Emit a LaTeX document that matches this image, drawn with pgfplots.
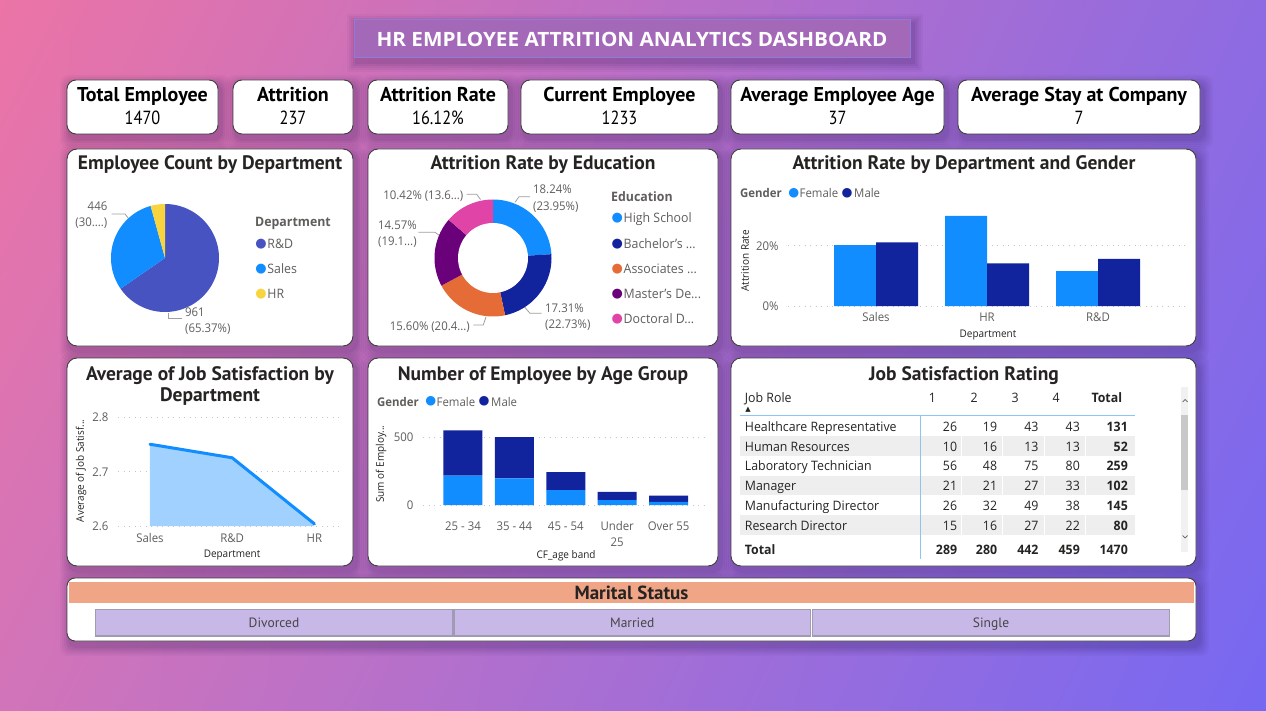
\documentclass[border=0pt]{standalone}
\usepackage{pgfplots}
\pgfplotsset{compat=1.18}
\usetikzlibrary{shadings}
\usepackage{fontspec}
\setmainfont{Open Sans}[FakeStretch=0.95]
\newfontfamily\din{PT Sans}
\newfontfamily\dinc{PT Sans}[FakeStretch=0.86]
\newfontfamily\banner{Open Sans}[FakeStretch=1.05]
\newfontfamily\sym{DejaVu Sans}

\definecolor{bgTL}{HTML}{EC74A6}
\definecolor{bgTR}{HTML}{8E6BE2}
\definecolor{bgBL}{HTML}{D274B9}
\definecolor{bgBR}{HTML}{7668F2}
\definecolor{shadowc}{HTML}{2E1A55}
\definecolor{cardline}{HTML}{404040}
\definecolor{titlebox}{HTML}{A468B8}
\definecolor{titleline}{HTML}{8F7BD8}
\definecolor{pbiBlue}{HTML}{118DFF}
\definecolor{pbiNavy}{HTML}{12239E}
\definecolor{pbiOrange}{HTML}{E66C37}
\definecolor{pbiPurple}{HTML}{6B007B}
\definecolor{pbiPink}{HTML}{E044A7}
\definecolor{rdBlue}{HTML}{4653C1}
\definecolor{hrYellow}{HTML}{F8D43E}
\definecolor{txt}{HTML}{252423}
\definecolor{gtxt}{HTML}{605E5C}
\definecolor{leader}{HTML}{A19F9D}
\definecolor{gridc}{HTML}{C8C6C4}
\definecolor{areaFill}{HTML}{A0D1FF}
\definecolor{rowShade}{HTML}{EEEEEE}
\definecolor{tblBlue}{HTML}{8CC4F8}
\definecolor{scrollTrack}{HTML}{F1F1F1}
\definecolor{scrollThumb}{HTML}{C8C8C8}
\definecolor{maritalHead}{HTML}{F0A686}
\definecolor{slicerFill}{HTML}{C8B8E8}
\definecolor{slicerLine}{HTML}{A09BB0}

\newcommand\fs[1]{\fontsize{#1}{#1}\selectfont}

% white card with a soft drop shadow: [corner radius]{x1}{y1}{x2}{y2}
\newcommand\card[5][10]{%
  \foreach \s/\o in {10/0.04,8/0.05,6/0.06,4/0.07,2/0.08}{%
    \fill[shadowc, opacity=\o, rounded corners=#1pt]
      ({#2+3-\s},{#3+5-\s}) rectangle ({#4+3+\s},{#5+5+\s});}%
  \filldraw[fill=white, draw=cardline, line width=0.9pt, rounded corners=#1pt]
    (#2,#3) rectangle (#4,#5);}

% legend entry: colour, x of dot, y centre, label
\newcommand\legitem[4]{%
  \node[font=\sym\fs{13}, text=#1] at (#2,#3) {●};
  \node[anchor=base west, font=\fs{13}] at ({#2+6.2},{#3+4.7}) {#4};}

% shared look of the chart axes
\pgfplotsset{
  pbi/.style={
    scale only axis, clip=false,
    axis line style={draw=none},
    major tick length=0pt,
    ymajorgrids,
    major grid style={draw=gridc, line width=1pt, dash pattern=on 1pt off 4.5pt},
    tick label style={font=\fontsize{12}{16}\selectfont, text=gtxt},
    yticklabel style={xshift=-6pt},
    label style={font=\fs{10.5}, text=txt},
  }
}

% slice values
\pgfmathsetmacro\pieTot{961+446+63}
\pgfmathsetmacro\aRD{90-360*(961/\pieTot)}
\pgfmathsetmacro\aSA{\aRD-360*(446/\pieTot)}
\pgfmathsetmacro\dTot{18.24+17.31+15.60+14.57+10.42}
\pgfmathsetmacro\dA{90-360*(18.24/\dTot)}
\pgfmathsetmacro\dB{\dA-360*(17.31/\dTot)}
\pgfmathsetmacro\dC{\dB-360*(15.60/\dTot)}
\pgfmathsetmacro\dD{\dC-360*(14.57/\dTot)}

\begin{document}
\begin{tikzpicture}
\begin{scope}[x=1pt,y=-1pt]
\useasboundingbox (0,0) rectangle (1266,711);
\shade[upper left=bgTL, upper right=bgTR, lower left=bgBL, lower right=bgBR] (0,0) rectangle (1266,711);

% ---------- banner ----------
\foreach \s/\o in {10/0.04,8/0.05,6/0.06,4/0.07,2/0.08}{%
  \fill[shadowc, opacity=\o] ({354+3-\s},{19+5-\s}) rectangle ({910+3+\s},{57+5+\s});}
\filldraw[fill=titlebox, draw=titleline, line width=0.8pt] (354,19) rectangle (910,57);
\node[anchor=base, inner sep=0, text=white, font=\banner\bfseries\fs{19.7}] at (632,46.3)
  {HR EMPLOYEE ATTRITION ANALYTICS DASHBOARD};

% ---------- KPI cards ----------
\foreach \xa/\xb/\lab/\val in {67/218/Total Employee/1470, 233/353/Attrition/237,
    368/508/Attrition Rate/16.12\%, 521/718/Current Employee/1233,
    731/944/Average Employee Age/37, 958/1200/Average Stay at Company/7}{
  \card[9]{\xa}{80}{\xb}{134}
  \node[anchor=base, inner sep=0, font=\din\bfseries\fs{20}, text=black] at ({(\xa+\xb)/2},101.5) {\lab};
  \node[anchor=base, inner sep=0, font=\dinc\fs{19}, text=black] at ({(\xa+\xb)/2},125) {\val};
}

% ---------- chart cards ----------
\card{67}{149}{353}{346}
\card{368}{149}{718}{346}
\card{731}{149}{1196}{346}
\card{67}{358}{353}{566}
\card{368}{358}{718}{566}
\card{731}{358}{1196}{566}

\begin{scope}[every node/.style={inner sep=0, text=txt, font=\din\bfseries\fs{19.5}}]
\node[anchor=base] at (210,170) {Employee Count by Department};
\node[anchor=base] at (543,170) {Attrition Rate by Education};
\node[anchor=base] at (964,170) {Attrition Rate by Department and Gender};
\node[anchor=base] at (210,380) {Average of Job Satisfaction by};
\node[anchor=base] at (210,401) {Department};
\node[anchor=base] at (543,380) {Number of Employee by Age Group};
\node[anchor=base] at (964,380) {Job Satisfaction Rating};
\end{scope}

% ---------- legends ----------
\begin{scope}[every node/.style={inner sep=0, text=gtxt}]
\node[anchor=base west, font=\bfseries\fs{13}] at (255,226.5) {Department};
\legitem{rdBlue}{261}{244}{R\&D}
\legitem{pbiBlue}{261}{269}{Sales}
\legitem{hrYellow}{261}{294}{HR}

\node[anchor=base west, font=\bfseries\fs{13}] at (611,202) {Education};
\legitem{pbiBlue}{617.3}{218.3}{High School}
\legitem{pbiNavy}{617.3}{244}{Bachelor's ...}
\legitem{pbiOrange}{617.3}{269}{Associates ...}
\legitem{pbiPurple}{617.3}{294}{Master's De...}
\legitem{pbiPink}{617.3}{319}{Doctoral D...}

\foreach \gx/\gy in {740/193.3, 377/401.7}{
  \node[anchor=base west, font=\bfseries\fs{12}] at (\gx,\gy+4.3) {Gender};
  \node[font=\sym\fs{12.5}, text=pbiBlue] at (\gx+53.7,\gy) {●};
  \node[anchor=base west, font=\fs{12}] at (\gx+59.5,\gy+4.3) {Female};
  \node[font=\sym\fs{12.5}, text=pbiNavy] at (\gx+107,\gy) {●};
  \node[anchor=base west, font=\fs{12}] at (\gx+114,\gy+4.3) {Male};}

% ---------- slice labels ----------
\begin{scope}[every node/.append style={font=\fs{12}}]
\node[anchor=base east] at (107.5,210.7) {446};
\node[anchor=base east] at (107.5,226.7) {(30....)};
\node[anchor=base west] at (185,316.7) {961};
\node[anchor=base west] at (185,332.7) {(65.37\%)};
\node[anchor=base west] at (533,194) {18.24\%};
\node[anchor=base west] at (533,210.3) {(23.95\%)};
\node[anchor=base west] at (545,312.7) {17.31\%};
\node[anchor=base west] at (545,328) {(22.73\%)};
\node[anchor=base east] at (470,330.3) {15.60\% (20.4...)};
\node[anchor=base west] at (378,230) {14.57\%};
\node[anchor=base west] at (378,245.5) {(19.1...)};
\node[anchor=base east] at (463.5,199.3) {10.42\% (13.6...)};
\end{scope}
\end{scope}

\begin{scope}[draw=leader, line width=0.8pt]
\draw (111.7,214) -- (125,214) -- (128.5,218.5);
\draw (168.3,313) -- (168.3,318.3) -- (182,318.3);
\draw (515,202.3) -- (519,196.7) -- (530,196.7);
\draw (524.3,306.7) -- (530,313.3) -- (541.7,313.3);
\draw (473.3,325) -- (483.3,325) -- (486,317);
\draw (418.3,232.3) -- (435,232.3) -- (439.5,235.5);
\draw (466.7,194.3) -- (476.7,194.3) -- (480.5,199.5);
\end{scope}

% ---------- job satisfaction table ----------
\fill[rowShade] (739.7,436) rectangle (1134.7,455.5);
\fill[rowShade] (739.7,475.5) rectangle (1134.7,495);
\fill[rowShade] (739.7,515) rectangle (1134.7,535);
\foreach \x in {961.3,1002,1044,1085.3}{\draw[white, line width=1pt] (\x,416) -- (\x,535);}
\draw[tblBlue, line width=1.2pt] (739.7,415.3) -- (1134.7,415.3);
\draw[tblBlue, line width=1.2pt] (920.3,415.3) -- (920.3,559);

\begin{scope}[every node/.style={inner sep=0, text=txt, font=\fs{13}}]
\node[anchor=base west] at (744.7,402.5) {Job Role};
\node[font=\sym\fs{7}] at (748,409.5) {▲};
\foreach \x/\h in {928.7/1, 970.3/2, 1011.3/3, 1052.3/4}{
  \node[anchor=base west] at (\x,402.5) {\h};}
\node[anchor=base west, font=\bfseries\fs{13}] at (1091.3,402.5) {Total};
\foreach \r/\y/\a/\b/\c/\d/\t in {Healthcare Representative/431/26/19/43/43/131,
    Human Resources/451/10/16/13/13/52,
    Laboratory Technician/470.7/56/48/75/80/259,
    Manager/490.7/21/21/27/33/102,
    Manufacturing Director/510.3/26/32/49/38/145,
    Research Director/530/15/16/27/22/80}{
  \node[anchor=base west] at (744.7,\y) {\r};
  \node[anchor=base east] at (957.3,\y) {\a};
  \node[anchor=base east] at (997.3,\y) {\b};
  \node[anchor=base east] at (1038.7,\y) {\c};
  \node[anchor=base east] at (1080,\y) {\d};
  \node[anchor=base east, font=\bfseries\fs{13}] at (1128,\y) {\t};}
\begin{scope}[every node/.append style={font=\bfseries\fs{13}}]
\node[anchor=base west] at (744.7,554.3) {Total};
\node[anchor=base east] at (957.3,554.3) {289};
\node[anchor=base east] at (997.3,554.3) {280};
\node[anchor=base east] at (1038.7,554.3) {442};
\node[anchor=base east] at (1080,554.3) {459};
\node[anchor=base east] at (1128,554.3) {1470};
\end{scope}
\end{scope}
\fill[scrollTrack] (1180.7,386.7) rectangle (1188.3,551.7);
\fill[scrollThumb] (1180.7,415) rectangle (1188.3,490);
\draw[gtxt, line width=0.7pt] (1182.5,402) -- (1185,399.5) -- (1187.5,402);
\draw[gtxt, line width=0.7pt] (1182.5,535.5) -- (1185,538) -- (1187.5,535.5);

% ---------- marital status slicer ----------
\card[8]{67}{578}{1196}{641}
\fill[maritalHead] (69,582.3) rectangle (1194,603.3);
\node[anchor=base, inner sep=0, font=\din\bfseries\fs{19}, text=txt] at (631.5,599.5) {Marital Status};
\foreach \xa/\xb/\t in {95.5/452.5/Divorced, 454/810.5/Married, 812.5/1169.5/Single}{
  \filldraw[fill=slicerFill, draw=slicerLine, line width=1.2pt] (\xa,609.5) rectangle (\xb,636);
  \node[anchor=base, inner sep=0, font=\din\fs{13.5}, text=txt!85] at ({(\xa+\xb)/2},627.5) {\t};}
\end{scope}

% ---------- employee count by department (pie) ----------
\begin{axis}[at={(165pt,-258pt)}, anchor=center, scale only axis, width=108pt, height=108pt,
  xmin=-1, xmax=1, ymin=-1, ymax=1, hide axis, clip=false]
\addplot[fill=rdBlue, draw=none, domain=\aRD:90, samples=100, variable=\t]
  ({cos(\t)},{sin(\t)}) -- (axis cs:0,0) -- cycle;
\addplot[fill=pbiBlue, draw=none, domain=\aSA:\aRD, samples=60, variable=\t]
  ({cos(\t)},{sin(\t)}) -- (axis cs:0,0) -- cycle;
\addplot[fill=hrYellow, draw=none, domain=-270:\aSA, samples=20, variable=\t]
  ({cos(\t)},{sin(\t)}) -- (axis cs:0,0) -- cycle;
\end{axis}

% ---------- attrition rate by education (donut) ----------
\begin{axis}[at={(493pt,-258pt)}, anchor=center, scale only axis, width=117pt, height=117pt,
  xmin=-1, xmax=1, ymin=-1, ymax=1, hide axis, clip=false]
\addplot[fill=pbiBlue, draw=none, domain=\dA:90, samples=40, variable=\t]
  ({cos(\t)},{sin(\t)}) -- (axis cs:0,0) -- cycle;
\addplot[fill=pbiNavy, draw=none, domain=\dB:\dA, samples=40, variable=\t]
  ({cos(\t)},{sin(\t)}) -- (axis cs:0,0) -- cycle;
\addplot[fill=pbiOrange, draw=none, domain=\dC:\dB, samples=40, variable=\t]
  ({cos(\t)},{sin(\t)}) -- (axis cs:0,0) -- cycle;
\addplot[fill=pbiPurple, draw=none, domain=\dD:\dC, samples=40, variable=\t]
  ({cos(\t)},{sin(\t)}) -- (axis cs:0,0) -- cycle;
\addplot[fill=pbiPink, draw=none, domain=-270:\dD, samples=40, variable=\t]
  ({cos(\t)},{sin(\t)}) -- (axis cs:0,0) -- cycle;
\fill[white] (axis cs:0,0) circle[radius=35pt];
\end{axis}

% ---------- attrition rate by department and gender ----------
\begin{axis}[pbi, at={(788pt,-306pt)}, anchor=south west, width=400pt, height=99pt,
  xmin=-0.793, xmax=2.811, ymin=0, ymax=33,
  ybar=0pt, bar width=42pt,
  xtick={0,1,2}, xticklabels={Sales,HR,R\&D},
  xticklabel style={yshift=-3pt},
  ytick={0,20}, yticklabels={0\%,20\%},
  xlabel={Department}, ylabel={Attrition Rate},
  xlabel style={at={(axis description cs:0.5,-0.29)}, anchor=center},
  ylabel style={at={(axis description cs:-0.1075,0.457)}, anchor=center}]
\addplot[fill=pbiBlue, draw=none] coordinates {(0,20.3) (1,30.0) (2,11.6)};
\addplot[fill=pbiNavy, draw=none] coordinates {(0,21.2) (1,14.2) (2,15.7)};
\end{axis}

% ---------- average job satisfaction by department ----------
\begin{axis}[pbi, at={(118pt,-526pt)}, anchor=south west, width=225pt, height=108.3pt,
  xmin=-0.389, xmax=2.348, ymin=2.6, ymax=2.8,
  xtick={0,1,2}, xticklabels={Sales,R\&D,HR},
  xticklabel style={yshift=-4pt},
  ytick={2.6,2.7,2.8}, yticklabels={2.6,2.7,2.8},
  xlabel={Department}, ylabel={Average of Job Satisf...},
  xlabel style={at={(axis description cs:0.507,-0.272)}, anchor=center},
  ylabel style={at={(axis description cs:-0.164,0.51)}, anchor=center}]
\addplot[fill=areaFill, draw=none] coordinates {(0,2.751) (1,2.726) (2,2.604)}
  -- (axis cs:2,2.6) -- (axis cs:0,2.6) -- cycle;
\addplot[draw=pbiBlue, line width=3pt, line join=round, line cap=round]
  coordinates {(0,2.751) (1,2.726) (2,2.604)};
\end{axis}

% ---------- number of employees by age group ----------
\begin{axis}[pbi, at={(423pt,-505pt)}, anchor=south west, width=285pt, height=80.8pt,
  xmin=-0.778, xmax=4.766, ymin=0, ymax=600,
  ybar stacked, bar width=39pt,
  xtick={0,1,2,3,4}, xticklabels={25 - 34,35 - 44,45 - 54,{Under\\25},Over 55},
  xticklabel style={align=center, yshift=-13pt},
  ytick={0,500}, yticklabels={0,500},
  xlabel={CF\_age band}, ylabel={Sum of Employ...},
  xlabel style={at={(axis description cs:0.502,-0.625)}, anchor=center},
  ylabel style={at={(axis description cs:-0.147,0.507)}, anchor=center}]
\addplot[fill=pbiBlue, draw=none] coordinates {(0,218) (1,198) (2,111) (3,37) (4,24)};
\addplot[fill=pbiNavy, draw=none] coordinates {(0,336) (1,307) (2,134) (3,60) (4,45)};
\end{axis}
\end{tikzpicture}
\end{document}
